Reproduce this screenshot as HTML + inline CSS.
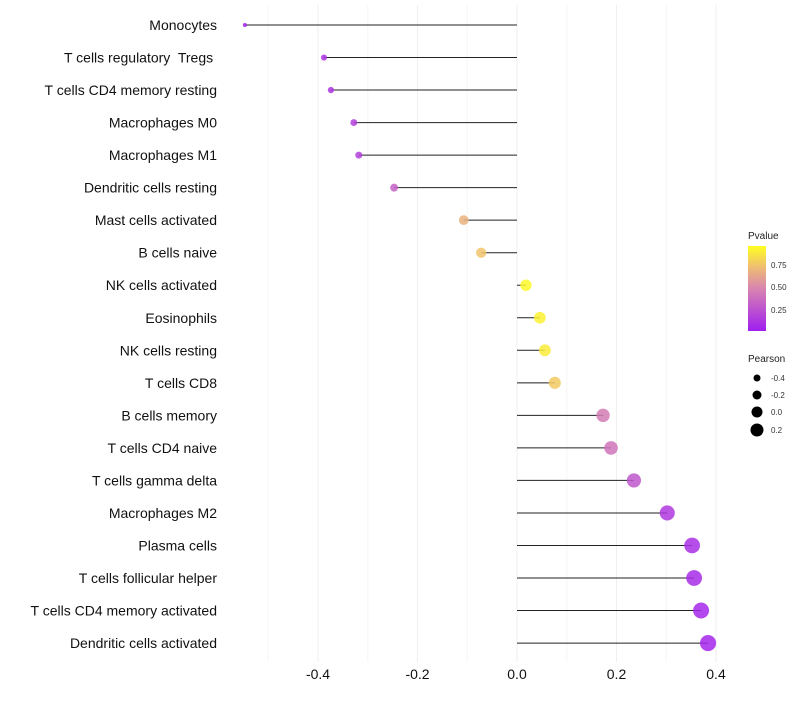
<!DOCTYPE html>
<html><head><meta charset="utf-8"><style>
body{margin:0;background:#fff;font-family:"Liberation Sans",sans-serif;}
svg text{font-family:"Liberation Sans",sans-serif;white-space:pre;}
</style></head><body>
<svg id="chart" width="800" height="700" xmlns="http://www.w3.org/2000/svg">
<defs><linearGradient id="pg" x1="0" y1="1" x2="0" y2="0">
<stop offset="0" stop-color="#a01ff0"/><stop offset="0.5" stop-color="#d884b0"/><stop offset="0.75" stop-color="#efbd73"/><stop offset="1" stop-color="#ffff20"/></linearGradient></defs>
<g id="grid"></g>
<g id="marks"></g>
<g id="ylab"></g>
<g id="xlab"></g>
<g>
<text x="748" y="239" font-size="10" fill="#222">Pvalue</text>
<rect x="748" y="246" width="18" height="85" fill="url(#pg)"/>
<text x="771" y="268" font-size="8" fill="#333">0.75</text>
<text x="771" y="290" font-size="8" fill="#333">0.50</text>
<text x="771" y="313" font-size="8" fill="#333">0.25</text>
</g>
<g>
<text x="748" y="362" font-size="10" fill="#222">Pearson</text>
<circle cx="757" cy="378" r="3.5" fill="#000"/><text x="771" y="381" font-size="8" fill="#333">-0.4</text>
<circle cx="757" cy="395" r="4.5" fill="#000"/><text x="771" y="398" font-size="8" fill="#333">-0.2</text>
<circle cx="757" cy="412" r="5.5" fill="#000"/><text x="771" y="415" font-size="8" fill="#333">0.0</text>
<circle cx="757" cy="430" r="6.5" fill="#000"/><text x="771" y="433" font-size="8" fill="#333">0.2</text>
</g>
</svg>
<script>
const categories=["Monocytes","T cells regulatory  Tregs ","T cells CD4 memory resting","Macrophages M0","Macrophages M1","Dendritic cells resting","Mast cells activated","B cells naive","NK cells activated","Eosinophils","NK cells resting","T cells CD8","B cells memory","T cells CD4 naive","T cells gamma delta","Macrophages M2","Plasma cells","T cells follicular helper","T cells CD4 memory activated","Dendritic cells activated"];
const pearson=[-0.547,-0.388,-0.374,-0.328,-0.318,-0.247,-0.107,-0.072,0.018,0.046,0.056,0.076,0.173,0.189,0.235,0.302,0.352,0.356,0.370,0.384];
const pvalue=[0.02,0.1,0.1,0.15,0.15,0.3,0.65,0.72,0.88,0.86,0.84,0.74,0.42,0.38,0.25,0.12,0.07,0.06,0.04,0.03];
const xTicks=[-0.4,-0.2,0.0,0.2,0.4];
const xTickLabels=["-0.4","-0.2","0.0","0.2","0.4"];
const xMinor=[-0.5,-0.3,-0.1,0.1,0.3];
const NS="http://www.w3.org/2000/svg";
const x=v=>517+v*497.5;
const y=i=>25+i*32.53;
const rad=v=>2+(v+0.55)*6.5;
function col(p){const st=[[0,[160,31,240]],[0.45,[216,132,176]],[0.7,[239,189,115]],[0.9,[255,255,32]]];p=Math.max(0,Math.min(0.9,p));
for(let k=1;k<st.length;k++){if(p<=st[k][0]){const a=st[k-1],b=st[k],t=(p-a[0])/(b[0]-a[0]);return "rgb("+a[1].map((c,j)=>Math.round(c+(b[1][j]-c)*t)).join(",")+")";}}return "rgb(255,255,32)";}
function mk(tag,attrs,parent){const e=document.createElementNS(NS,tag);for(const k in attrs)e.setAttribute(k,attrs[k]);parent.appendChild(e);return e;}
const grid=document.getElementById('grid'),marks=document.getElementById('marks'),ylab=document.getElementById('ylab'),xlab=document.getElementById('xlab');
xMinor.forEach(v=>{const l=mk('line',{x1:x(v),x2:x(v),y1:5,y2:662,stroke:'#f6f6f6','stroke-width':1},grid);

});
xTicks.forEach((v,i)=>{const l=mk('line',{x1:x(v),x2:x(v),y1:5,y2:662,stroke:'#efefef','stroke-width':1},grid);


const t=mk('text',{x:x(v),y:679,'font-size':14,'text-anchor':'middle',fill:'#111'},xlab);t.textContent=xTickLabels[i];

});
categories.forEach((c,i)=>{const t=mk('text',{x:217,y:y(i)+5,'font-size':14,'text-anchor':'end',fill:'#111'},ylab);t.textContent=c;


const l=mk('line',{x1:x(0),x2:x(pearson[i]),y1:y(i),y2:y(i),stroke:'#222','stroke-width':1},marks);


const d=mk('circle',{cx:x(pearson[i]),cy:y(i),r:rad(pearson[i]),fill:col(pvalue[i]),'fill-opacity':0.85},marks);

});
</script>
</body></html>
